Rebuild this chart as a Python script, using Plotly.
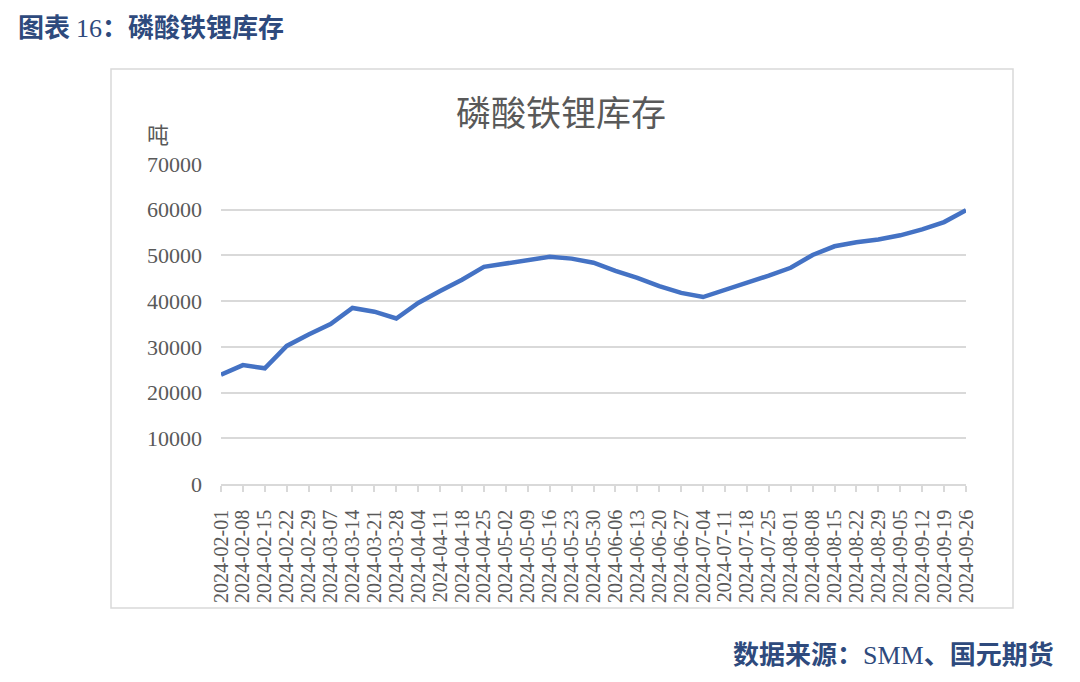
import plotly.graph_objects as go

# 磷酸铁锂库存（吨），周度
dates = [
    "2024-02-01", "2024-02-08", "2024-02-15", "2024-02-22", "2024-02-29",
    "2024-03-07", "2024-03-14", "2024-03-21", "2024-03-28", "2024-04-04",
    "2024-04-11", "2024-04-18", "2024-04-25", "2024-05-02", "2024-05-09",
    "2024-05-16", "2024-05-23", "2024-05-30", "2024-06-06", "2024-06-13",
    "2024-06-20", "2024-06-27", "2024-07-04", "2024-07-11", "2024-07-18",
    "2024-07-25", "2024-08-01", "2024-08-08", "2024-08-15", "2024-08-22",
    "2024-08-29", "2024-09-05", "2024-09-12", "2024-09-19", "2024-09-26",
]
inventory = [
    23900, 26000, 25300, 30200, 32700,
    35000, 38500, 37700, 36200, 39600,
    42200, 44700, 47500, 48300, 49100,
    49700, 49300, 48400, 46600, 45100,
    43300, 41800, 40900, 42400, 43900,
    45600, 47300, 50100, 52000, 52900,
    53500, 54400, 55700, 57300, 59900,
]
y_ticks = [0, 10000, 20000, 30000, 40000, 50000, 60000, 70000]

navy = "#2E4A7D"
grey_text = "#595959"
serif = "Liberation Serif, Times New Roman, serif"
cjk = "Noto Sans CJK SC, sans-serif"

fig = go.Figure()
fig.add_trace(go.Scatter(
    x=dates, y=inventory, mode="lines",
    line=dict(color="#4472C4", width=4.5),
    showlegend=False, hoverinfo="x+y",
))

fig.update_layout(
    width=1080, height=682,
    margin=dict(l=221, r=114, t=164, b=198),
    paper_bgcolor="white", plot_bgcolor="white",
    title=dict(
        text="<b>图表 <span style='font-family:Liberation Serif;font-weight:normal'>16</span>：磷酸铁锂库存</b>",
        font=dict(family=cjk, size=26, color=navy),
        x=18 / 1080, xanchor="left", xref="container",
        y=1 - 28 / 682, yanchor="middle", yref="container",
    ),
)

fig.update_xaxes(
    type="category", range=[0, len(dates) - 1],
    tickmode="array", tickvals=dates, ticktext=dates,
    tickangle=-90, tickfont=dict(family=serif, size=20, color=grey_text),
    showline=True, linecolor="#D9D9D9", linewidth=1.5,
    ticks="outside", ticklen=6, tickcolor="#D9D9D9", tickwidth=1.5,
    ticklabelstandoff=10,
    showgrid=False, zeroline=False,
)
fig.update_yaxes(
    range=[0, 70000], tickvals=y_ticks, ticktext=[str(v) for v in y_ticks],
    tickfont=dict(family=serif, size=22, color=grey_text),
    showgrid=True, gridcolor="#D9D9D9", gridwidth=1.5,
    zeroline=False, showline=False, ticks="", ticklabelstandoff=18,
)

# 图表外框
fig.add_shape(
    type="rect", xref="paper", yref="paper",
    x0=(111 - 221) / 745, x1=(1013 - 221) / 745,
    y0=(484 - 608) / 320, y1=(484 - 69) / 320,
    line=dict(color="#D9D9D9", width=1.5), fillcolor="rgba(0,0,0,0)", layer="below",
)

fig.add_annotation(
    text="磷酸铁锂库存", xref="paper", yref="paper",
    x=(561 - 221) / 745, y=(484 - 110) / 320, xanchor="center", yanchor="middle",
    showarrow=False, font=dict(family=cjk, size=35, color=grey_text),
)
fig.add_annotation(
    text="吨", xref="paper", yref="paper",
    x=(145 - 221) / 745, y=(484 - 133) / 320, xanchor="left", yanchor="middle",
    showarrow=False, font=dict(family=cjk, size=22, color=grey_text),
)
fig.add_annotation(
    text="<b>数据来源：<span style='font-family:Liberation Serif;font-weight:normal'>SMM</span>、国元期货</b>",
    xref="paper", yref="paper",
    x=(1056 - 221) / 745, y=(484 - 652) / 320, xanchor="right", yanchor="middle",
    showarrow=False, font=dict(family=cjk, size=26, color=navy),
)

fig.write_html(
    "out.html",
    config={"displayModeBar": False},
    post_script="document.body.style.margin='0';",
)
